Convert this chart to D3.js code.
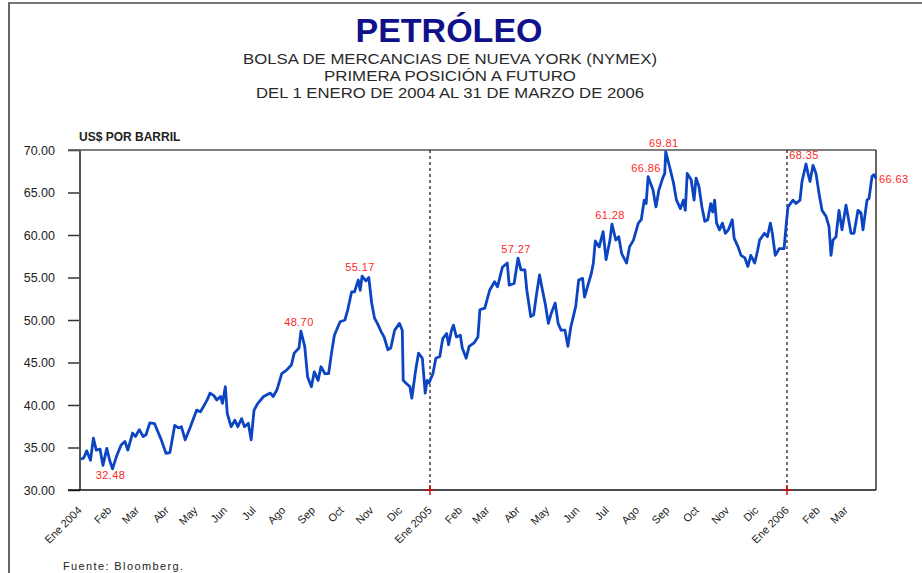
<!DOCTYPE html>
<html lang="es">

<head>
	<meta charset="utf-8">
	<title>Petróleo NYMEX</title>
	<script type="text/javascript" src="https://cdn.jsdelivr.net/npm/d3@7"></script>
	<style type="text/css">
		body { margin: 0; background: #fff; }
		text { font-family: Arial, "Liberation Sans", sans-serif; }
	</style>
</head>

<body>
	<script type="text/javascript">
		// chart data
		var dates = [
			"2004-01-02", "2004-01-05", "2004-01-08", "2004-01-12", "2004-01-15", "2004-01-18", "2004-01-22", "2004-01-25", "2004-01-29",
			"2004-02-01", "2004-02-04", "2004-02-08", "2004-02-13", "2004-02-17", "2004-02-20", "2004-02-25", "2004-02-28",
			"2004-03-03", "2004-03-07", "2004-03-10", "2004-03-14", "2004-03-19", "2004-03-23", "2004-03-26", "2004-03-31",
			"2004-04-04", "2004-04-09", "2004-04-13", "2004-04-16", "2004-04-20", "2004-04-25",
			"2004-05-02", "2004-05-06", "2004-05-09", "2004-05-13", "2004-05-16", "2004-05-20", "2004-05-23", "2004-05-27", "2004-05-29",
			"2004-06-01", "2004-06-03", "2004-06-07", "2004-06-11", "2004-06-14", "2004-06-18", "2004-06-21", "2004-06-25", "2004-06-28",
			"2004-07-01", "2004-07-05", "2004-07-11", "2004-07-18", "2004-07-21", "2004-07-25", "2004-07-30",
			"2004-08-04", "2004-08-09", "2004-08-12", "2004-08-17", "2004-08-19", "2004-08-23", "2004-08-26", "2004-08-30",
			"2004-09-02", "2004-09-06", "2004-09-09", "2004-09-13", "2004-09-17", "2004-09-20", "2004-09-23", "2004-09-29",
			"2004-10-04", "2004-10-07", "2004-10-11", "2004-10-14", "2004-10-18", "2004-10-20", "2004-10-22", "2004-10-26", "2004-10-29",
			"2004-11-01", "2004-11-04", "2004-11-07", "2004-11-11", "2004-11-14", "2004-11-18", "2004-11-21", "2004-11-25", "2004-11-30",
			"2004-12-03", "2004-12-04", "2004-12-07", "2004-12-11", "2004-12-13", "2004-12-17", "2004-12-20", "2004-12-24", "2004-12-27", "2004-12-29", "2004-12-31",
			"2005-01-04", "2005-01-07", "2005-01-11", "2005-01-14", "2005-01-18", "2005-01-20", "2005-01-23", "2005-01-25", "2005-01-28",
			"2005-02-01", "2005-02-03", "2005-02-07", "2005-02-10", "2005-02-15", "2005-02-19", "2005-02-21", "2005-02-26",
			"2005-03-03", "2005-03-08", "2005-03-11", "2005-03-16", "2005-03-21", "2005-03-23", "2005-03-28",
			"2005-04-01", "2005-04-04", "2005-04-08", "2005-04-10", "2005-04-14", "2005-04-17", "2005-04-20", "2005-04-23", "2005-04-26", "2005-04-29",
			"2005-05-02", "2005-05-05", "2005-05-09", "2005-05-12", "2005-05-15", "2005-05-19", "2005-05-22", "2005-05-25", "2005-05-30",
			"2005-06-02", "2005-06-06", "2005-06-08", "2005-06-11", "2005-06-15", "2005-06-17", "2005-06-19", "2005-06-23", "2005-06-27", "2005-06-30",
			"2005-07-04", "2005-07-06", "2005-07-10", "2005-07-13", "2005-07-16", "2005-07-21", "2005-07-24", "2005-07-28",
			"2005-08-02", "2005-08-05", "2005-08-08", "2005-08-10", "2005-08-12", "2005-08-17", "2005-08-20", "2005-08-23", "2005-08-27", "2005-08-29", "2005-08-30",
			"2005-09-03", "2005-09-07", "2005-09-10", "2005-09-14", "2005-09-17", "2005-09-19", "2005-09-21", "2005-09-25", "2005-09-28", "2005-09-30",
			"2005-10-03", "2005-10-06", "2005-10-09", "2005-10-12", "2005-10-15", "2005-10-17", "2005-10-19", "2005-10-21", "2005-10-24", "2005-10-27", "2005-10-30",
			"2005-11-02", "2005-11-06", "2005-11-08", "2005-11-12", "2005-11-15", "2005-11-19", "2005-11-22", "2005-11-25", "2005-11-29",
			"2005-12-02", "2005-12-04", "2005-12-09", "2005-12-12", "2005-12-15", "2005-12-17", "2005-12-20", "2005-12-24", "2005-12-29", "2005-12-31",
			"2006-01-02", "2006-01-07", "2006-01-10", "2006-01-14", "2006-01-16", "2006-01-20", "2006-01-22", "2006-01-24", "2006-01-27", "2006-01-30",
			"2006-02-02", "2006-02-05", "2006-02-09", "2006-02-12", "2006-02-14", "2006-02-16", "2006-02-19", "2006-02-22", "2006-02-25",
			"2006-03-01", "2006-03-03", "2006-03-06", "2006-03-09", "2006-03-13", "2006-03-16", "2006-03-18", "2006-03-22", "2006-03-24", "2006-03-27", "2006-03-29", "2006-03-31"
		];

		var prices = [
			33.6, 33.8, 34.6, 33.5, 36.1, 34.7, 34.8, 32.9, 34.9,
			33.5, 32.48, 33.9, 35.3, 35.7, 34.7, 36.7, 36.3,
			37.1, 36.3, 36.5, 37.9, 37.8, 36.7, 35.9, 34.3,
			34.4, 37.6, 37.3, 37.45, 35.9, 37.3,
			39.4, 39.2, 39.8, 40.6, 41.4, 41.1, 40.6, 41.0, 40.2,
			42.15, 39.0, 37.45, 38.2, 37.45, 38.4, 37.45, 37.85, 35.9,
			39.4, 40.2, 41.0, 41.4, 41.0, 41.8, 43.7,
			44.1, 44.7, 46.1, 46.7, 48.70, 46.9, 43.3, 42.15,
			43.9, 42.9, 44.5, 43.7, 43.7, 46.1, 48.2, 49.8,
			50.0, 51.2, 53.3, 53.3, 54.7, 53.5, 55.17, 54.6, 55.0,
			52.0, 50.2, 49.6, 48.6, 48.0, 46.5, 46.7, 48.8, 49.6,
			48.8, 42.9, 42.55, 42.15, 40.8, 44.1, 46.1, 45.5, 41.4, 42.9, 42.6,
			43.7, 45.5, 45.7, 47.8, 48.4, 47.1, 48.8, 49.4, 48.0,
			48.2, 46.7, 45.5, 46.9, 47.3, 48.0, 51.2, 51.4,
			53.5, 54.5, 53.9, 56.2, 56.7, 54.1, 54.3,
			57.27, 55.9, 55.9, 53.5, 50.4, 50.6, 53.1, 55.3, 53.5, 51.8,
			49.6, 50.8, 52.0, 49.6, 48.8, 48.8, 46.9, 49.2, 51.6,
			54.7, 54.9, 52.7, 53.9, 55.5, 56.7, 59.3, 58.6, 60.4, 57.1,
			59.4, 61.28, 59.4, 59.8, 57.8, 56.7, 58.6, 59.4,
			61.4, 61.8, 64.1, 63.7, 66.86, 65.3, 63.3, 65.3, 66.7, 67.25, 69.81,
			68.0, 66.1, 64.1, 63.1, 64.1, 62.9, 67.25, 66.5, 64.1, 66.7,
			65.7, 63.3, 61.6, 61.8, 63.7, 62.7, 64.1, 61.4, 60.6, 61.4, 60.2,
			60.6, 61.8, 59.6, 58.6, 57.6, 57.3, 56.3, 57.6, 56.7,
			58.2, 59.4, 60.2, 59.8, 61.4, 60.2, 57.6, 58.4, 58.4, 61.0,
			63.3, 64.1, 63.7, 64.1, 66.3, 68.35, 67.25, 66.3, 68.2, 67.25,
			64.9, 62.9, 62.2, 61.0, 57.6, 59.4, 59.8, 62.9, 60.6,
			63.5, 62.2, 60.2, 60.2, 62.9, 62.6, 60.6, 64.1, 64.3, 66.9, 67.1, 66.63
		];

		// labelled highs and lows
		var noteDates = ["2004-02-04", "2004-08-19", "2004-10-22", "2005-04-01", "2005-07-06", "2005-08-12", "2005-08-30", "2006-01-20", "2006-03-31"];
		var noteValues = [32.48, 48.70, 55.17, 57.27, 61.28, 66.86, 69.81, 68.35, 66.63];

		// axis labels
		var yTicks = [30, 35, 40, 45, 50, 55, 60, 65, 70];
		var monthNames = ["Ene", "Feb", "Mar", "Abr", "May", "Jun", "Jul", "Ago", "Sep", "Oct", "Nov", "Dic"];
		var yearMarks = ["2005-01-01", "2006-01-01"];

		//Width and height
		var w = 922;
		var h = 573;
		var plotL = 80, plotR = 876, plotT = 150, plotB = 490;

		var parse = d3.timeParse("%Y-%m-%d");
		var data = dates.map(function (d, i) {
			return { date: parse(d), value: prices[i] };
		});

		// scales (each year gets its own stretch of the axis, like the original)
		var xScale = d3.scaleTime()
			.domain([parse("2004-01-01"), parse("2005-01-01"), parse("2006-01-01"), parse("2006-03-31")])
			.range([plotL, 430, 787, plotR]);

		var yScale = d3.scaleLinear()
			.domain([30, 70])
			.range([plotB, plotT]);

		//Create SVG element
		var svg = d3.select("body")
			.append("svg")
			.attr("width", w)
			.attr("height", h);

		// page frame
		svg.append("line")
			.attr("x1", 8).attr("x2", w).attr("y1", 3).attr("y2", 3)
			.attr("stroke", "#777").attr("stroke-width", 2);
		svg.append("line")
			.attr("x1", 9).attr("x2", 9).attr("y1", 3).attr("y2", h)
			.attr("stroke", "#666").attr("stroke-width", 2);

		// titles
		svg.append("text")
			.attr("x", 449).attr("y", 42)
			.attr("text-anchor", "middle")
			.attr("font-size", "34px")
			.attr("font-weight", "bold")
			.attr("fill", "#10108a")
			.text("PETRÓLEO");

		var subtitles = [
			["BOLSA DE MERCANCIAS DE NUEVA YORK (NYMEX)", 64, 414],
			["PRIMERA POSICIÓN A FUTURO", 81, 252],
			["DEL 1 ENERO DE 2004 AL 31 DE MARZO DE 2006", 98, 388]
		];
		subtitles.forEach(function (s) {
			svg.append("text")
				.attr("x", 450 - s[2] / 2).attr("y", s[1])
				.attr("font-size", "15.5px")
				.attr("fill", "#2a2a2a")
				.attr("textLength", s[2])
				.attr("lengthAdjust", "spacingAndGlyphs")
				.text(s[0]);
		});

		svg.append("text")
			.attr("x", 79).attr("y", 141)
			.attr("font-size", "12px")
			.attr("font-weight", "bold")
			.attr("fill", "#222")
			.text("US$ POR BARRIL");

		// y axis
		var yAxis = d3.axisLeft(yScale)
			.tickValues(yTicks)
			.tickFormat(d3.format(".2f"))
			.tickSize(12)
			.tickPadding(13);

		var gy = svg.append("g")
			.attr("transform", "translate(" + plotL + ",0)")
			.call(yAxis);
		gy.select(".domain").remove();
		gy.selectAll(".tick line").attr("stroke", "#333").attr("stroke-width", 1.5);
		gy.selectAll(".tick text")
			.attr("font-family", "Arial, 'Liberation Sans', sans-serif")
			.attr("font-size", "12.5px")
			.attr("fill", "#222");

		// plot frame
		svg.append("line")
			.attr("x1", plotL - 12).attr("x2", plotR).attr("y1", plotT).attr("y2", plotT)
			.attr("stroke", "#555").attr("stroke-width", 1.5);
		svg.append("line")
			.attr("x1", plotR).attr("x2", plotR).attr("y1", plotT).attr("y2", plotB)
			.attr("stroke", "#333").attr("stroke-width", 1.5);
		svg.append("line")
			.attr("x1", plotL).attr("x2", plotL).attr("y1", plotT).attr("y2", plotB)
			.attr("stroke", "#555").attr("stroke-width", 2);

		// year separators
		yearMarks.forEach(function (d) {
			var xx = xScale(parse(d));
			svg.append("line")
				.attr("x1", xx).attr("x2", xx).attr("y1", plotT).attr("y2", plotB)
				.attr("stroke", "#111").attr("stroke-width", 1.2)
				.attr("stroke-dasharray", "3,3");
		});

		// x axis: month ticks
		var xAxis = d3.axisBottom(xScale)
			.tickValues(d3.timeMonth.range(parse("2004-01-01"), parse("2006-03-31")))
			.tickSize(0)
			.tickFormat(function (d) {
				var m = monthNames[d.getMonth()];
				return d.getMonth() === 0 ? m + " " + d.getFullYear() : m;
			});

		var gx = svg.append("g")
			.attr("transform", "translate(0," + plotB + ")")
			.call(xAxis);
		gx.select(".domain").remove();
		gx.selectAll(".tick text")
			.attr("font-family", "Arial, 'Liberation Sans', sans-serif")
			.attr("font-size", "11px")
			.attr("fill", "#222")
			.attr("text-anchor", "end")
			.attr("y", 0)
			.attr("dy", 0)
			.attr("transform", "translate(2,21) rotate(-45)");

		svg.append("line")
			.attr("x1", plotL - 12).attr("x2", plotR).attr("y1", plotB).attr("y2", plotB)
			.attr("stroke", "#111").attr("stroke-width", 1.5);

		// red crosses where the year changes
		yearMarks.forEach(function (d) {
			var xx = xScale(parse(d));
			svg.append("path")
				.attr("d", "M" + (xx - 5) + "," + plotB + "H" + (xx + 5) + "M" + xx + "," + (plotB - 5) + "V" + (plotB + 5))
				.attr("stroke", "#c41010").attr("stroke-width", 1.5);
		});

		// price line
		var line = d3.line()
			.x(function (d) { return xScale(d.date); })
			.y(function (d) { return yScale(d.value); });

		svg.append("path")
			.datum(data)
			.attr("d", line)
			.attr("fill", "none")
			.attr("stroke", "#0b45c2")
			.attr("stroke-width", 2.8)
			.attr("stroke-linejoin", "round");

		// value labels
		svg.selectAll("text.note")
			.data(noteDates)
			.enter()
			.append("text")
			.attr("class", "note")
			.text(function (d, i) { return noteValues[i].toFixed(2); })
			.attr("font-size", "11px")
			.attr("letter-spacing", "0.4px")
			.attr("fill", "#ff1f1f")
			.attr("text-anchor", function (d, i) {
				return i === noteDates.length - 1 ? "start" : "middle";
			})
			.attr("x", function (d, i) {
				var xx = xScale(parse(d));
				return i === noteDates.length - 1 ? xx + 3 : xx - 2;
			})
			.attr("y", function (d, i) {
				var yy = yScale(noteValues[i]);
				if (i === 0) return yy + 10;
				if (i === noteDates.length - 1) return yy + 4;
				return yy - 5;
			});

		// source
		svg.append("text")
			.attr("x", 63).attr("y", 570)
			.attr("font-size", "11px")
			.attr("fill", "#222")
			.attr("textLength", 120)
			.attr("lengthAdjust", "spacing")
			.text("Fuente: Bloomberg.");
	</script>
</body>

</html>
